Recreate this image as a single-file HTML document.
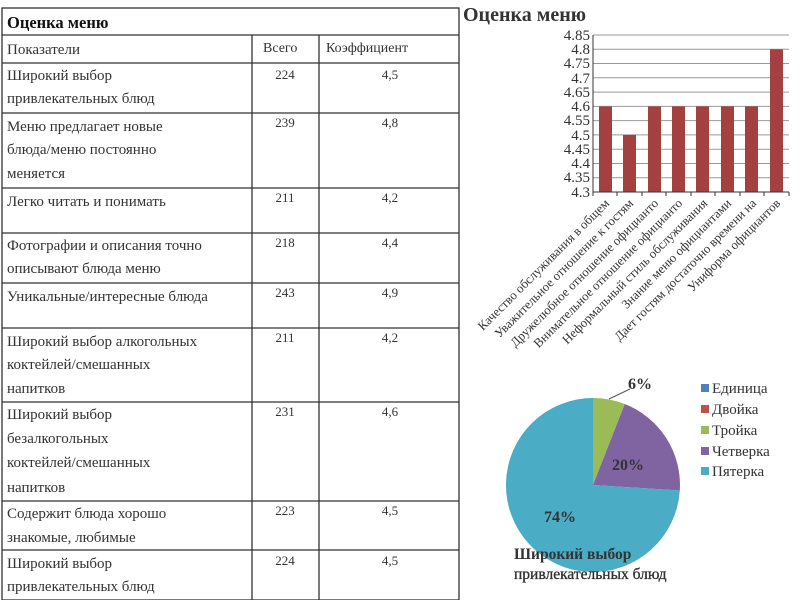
<!DOCTYPE html>
<html><head><meta charset="utf-8"><style>
body{margin:0;background:#fff;width:800px;height:600px;overflow:hidden}
svg{display:block}
.t{font-family:"Liberation Serif","DejaVu Serif",serif;fill:#333}
</style></head><body>
<svg width="800" height="600" viewBox="0 0 800 600" xmlns="http://www.w3.org/2000/svg">
<g stroke="#333" stroke-width="1.3" fill="none">
<rect x="2" y="8" width="457" height="592"/>
<line x1="2" y1="35" x2="459" y2="35"/>
<line x1="2" y1="63" x2="459" y2="63"/>
<line x1="2" y1="113" x2="459" y2="113"/>
<line x1="2" y1="188" x2="459" y2="188"/>
<line x1="2" y1="233" x2="459" y2="233"/>
<line x1="2" y1="283" x2="459" y2="283"/>
<line x1="2" y1="328" x2="459" y2="328"/>
<line x1="2" y1="402" x2="459" y2="402"/>
<line x1="2" y1="501" x2="459" y2="501"/>
<line x1="2" y1="550" x2="459" y2="550"/>
<line x1="252" y1="35" x2="252" y2="600"/>
<line x1="319" y1="35" x2="319" y2="600"/>
</g>
<g class="t" font-size="15">
<text x="7" y="28" font-weight="bold" font-size="16.5" fill="#111">Оценка меню</text>
<text x="7" y="54">Показатели</text>
<text x="263" y="52" font-size="14">Всего</text>
<text x="326" y="52" font-size="14">Коэффициент</text>
<text x="7" y="80">Широкий выбор</text><text x="7" y="103">привлекательных блюд</text>
<text x="7" y="131">Меню предлагает новые</text><text x="7" y="154">блюда/меню постоянно</text><text x="7" y="178">меняется</text>
<text x="7" y="206">Легко читать и понимать</text>
<text x="7" y="250">Фотографии и описания точно</text><text x="7" y="273">описывают блюда меню</text>
<text x="7" y="301">Уникальные/интересные блюда</text>
<text x="7" y="346">Широкий выбор алкогольных</text><text x="7" y="369">коктейлей/смешанных</text><text x="7" y="393">напитков</text>
<text x="7" y="419">Широкий выбор</text><text x="7" y="443">безалкогольных</text><text x="7" y="467">коктейлей/смешанных</text><text x="7" y="492">напитков</text>
<text x="7" y="518">Содержит блюда хорошо</text><text x="7" y="542">знакомые, любимые</text>
<text x="7" y="568">Широкий выбор</text><text x="7" y="591">привлекательных блюд</text>
</g>
<g class="t" font-size="13" text-anchor="middle">
<text x="285" y="79">224</text><text x="390" y="79">4,5</text>
<text x="285" y="127">239</text><text x="390" y="127">4,8</text>
<text x="285" y="202">211</text><text x="390" y="202">4,2</text>
<text x="285" y="247">218</text><text x="390" y="247">4,4</text>
<text x="285" y="297">243</text><text x="390" y="297">4,9</text>
<text x="285" y="342">211</text><text x="390" y="342">4,2</text>
<text x="285" y="416">231</text><text x="390" y="416">4,6</text>
<text x="285" y="515">223</text><text x="390" y="515">4,5</text>
<text x="285" y="565">224</text><text x="390" y="565">4,5</text>
</g>
<text class="t" x="463" y="21" font-size="20" font-weight="bold" fill="#111">Оценка меню</text>
<g stroke="#999" stroke-width="1">
<line x1="593" y1="35" x2="789" y2="35"/><line x1="593" y1="49.3" x2="789" y2="49.3"/>
<line x1="593" y1="63.5" x2="789" y2="63.5"/><line x1="593" y1="77.8" x2="789" y2="77.8"/>
<line x1="593" y1="92.1" x2="789" y2="92.1"/><line x1="593" y1="106.4" x2="789" y2="106.4"/>
<line x1="593" y1="120.6" x2="789" y2="120.6"/><line x1="593" y1="134.9" x2="789" y2="134.9"/>
<line x1="593" y1="149.2" x2="789" y2="149.2"/><line x1="593" y1="163.5" x2="789" y2="163.5"/>
<line x1="593" y1="177.7" x2="789" y2="177.7"/>
</g>
<g fill="#a4403f">
<rect x="599" y="106.4" width="13" height="85.6"/>
<rect x="623" y="134.9" width="13" height="57.1"/>
<rect x="648" y="106.4" width="13" height="85.6"/>
<rect x="672" y="106.4" width="13" height="85.6"/>
<rect x="696" y="106.4" width="13" height="85.6"/>
<rect x="721" y="106.4" width="13" height="85.6"/>
<rect x="745" y="106.4" width="13" height="85.6"/>
<rect x="770" y="49.3" width="13" height="142.7"/>
</g>
<g stroke="#333" stroke-width="1">
<line x1="593" y1="35" x2="593" y2="192"/><line x1="593" y1="192" x2="789" y2="192"/>
<line x1="593" y1="192" x2="593" y2="196"/><line x1="617" y1="192" x2="617" y2="196"/>
<line x1="642" y1="192" x2="642" y2="196"/><line x1="666" y1="192" x2="666" y2="196"/>
<line x1="691" y1="192" x2="691" y2="196"/><line x1="715" y1="192" x2="715" y2="196"/>
<line x1="740" y1="192" x2="740" y2="196"/><line x1="764" y1="192" x2="764" y2="196"/>
<line x1="789" y1="192" x2="789" y2="196"/>
</g>
<g class="t" font-size="15" text-anchor="end" fill="#444">
<text x="590" y="40">4.85</text><text x="590" y="54">4.8</text><text x="590" y="68">4.75</text>
<text x="590" y="83">4.7</text><text x="590" y="97">4.65</text><text x="590" y="111">4.6</text>
<text x="590" y="125">4.55</text><text x="590" y="140">4.5</text><text x="590" y="154">4.45</text>
<text x="590" y="168">4.4</text><text x="590" y="182">4.35</text><text x="590" y="197">4.3</text>
</g>
<g class="t" font-size="12.8" text-anchor="end" fill="#555">
<text transform="translate(610,204) rotate(-45)">Качество обслуживания в общем</text>
<text transform="translate(634,204) rotate(-45)">Уважительное отношение к гостям</text>
<text transform="translate(659,204) rotate(-45)">Дружелюбное отношение официанто</text>
<text transform="translate(683,204) rotate(-45)">Внимательное отношение официанто</text>
<text transform="translate(708,204) rotate(-45)">Неформальный стиль обслуживания</text>
<text transform="translate(732,204) rotate(-45)">Знание меню официантами</text>
<text transform="translate(757,204) rotate(-45)">Дает гостям достаточно времени на</text>
<text transform="translate(781,204) rotate(-45)">Униформа официантов</text>
</g>
<g transform="translate(593,485)">
<path d="M0,0 L0,-87 A87,87 0 0 1 31.8,-81 Z" fill="#9bbb59"/>
<path d="M0,0 L31.8,-81 A87,87 0 0 1 86.8,5.5 Z" fill="#8064a2"/>
<path d="M0,0 L86.8,5.5 A87,87 0 1 1 0,-87 Z" fill="#4bacc6"/>
<line x1="16" y1="-86" x2="37" y2="-96" stroke="#555"/>
</g>
<g class="t" font-weight="bold" font-size="16" fill="#222">
<text x="628" y="389">6%</text><text x="612" y="470">20%</text><text x="544" y="522">74%</text>
</g>
<g>
<rect x="701" y="384" width="8" height="8" fill="#4f81bd"/>
<rect x="701" y="405" width="8" height="8" fill="#c0504d"/>
<rect x="701" y="426" width="8" height="8" fill="#9bbb59"/>
<rect x="701" y="447" width="8" height="8" fill="#8064a2"/>
<rect x="701" y="467" width="8" height="8" fill="#4bacc6"/>
</g>
<g class="t" font-size="15" fill="#444">
<text x="712" y="393">Единица</text><text x="712" y="414">Двойка</text><text x="712" y="435">Тройка</text>
<text x="712" y="456">Четверка</text><text x="712" y="476">Пятерка</text>
</g>
<text class="t" x="514" y="559" font-size="15.5" font-weight="bold" fill="#222">Широкий выбор</text>
<text class="t" x="514" y="579" font-size="15.5" fill="#222" stroke="#222" stroke-width="0.3">привлекательных блюд</text>
</svg>
</body></html>
